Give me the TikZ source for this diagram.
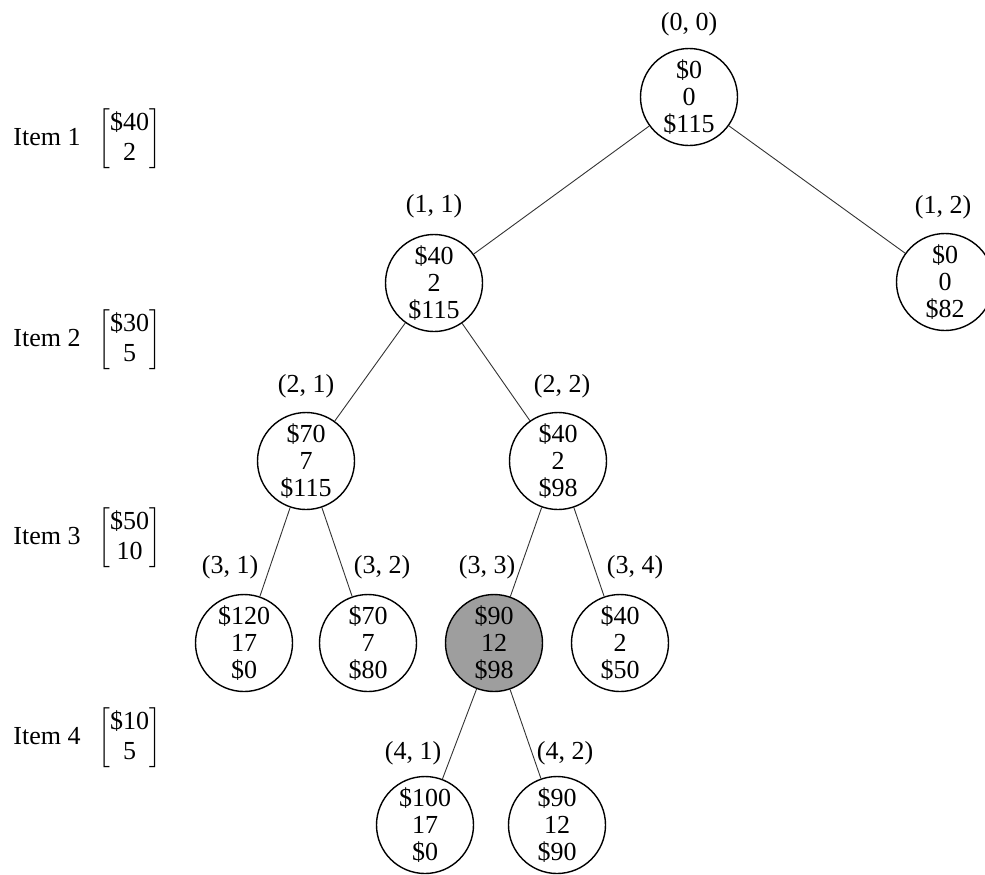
\documentclass[tikz,border=0pt]{standalone}
\usepackage{fontspec}
\setmainfont{Liberation Serif}
\usetikzlibrary{positioning}

\begin{document}
\begin{tikzpicture}[
  x=0.5pt, y=-0.5pt,
  state/.style={draw, circle, line width=0.7pt, minimum size=48.5pt, inner sep=0pt,
                align=center, font=\fontsize{13}{13.5}\selectfont},
  best/.style={state, fill=black!38},
  tag/.style={inner sep=0pt, font=\fontsize{13}{15}\selectfont},
  item/.style={anchor=west, inner sep=0pt, font=\fontsize{13}{15}\selectfont},
  branch/.style={line width=0.45pt, black!80}
]
\useasboundingbox (0,0) rectangle (985,874);
\node[item] (item1) at (13,139) {Item 1\hspace{9pt}$\left[\begin{tabular}{@{}c@{}}\$40\\2\end{tabular}\right]$};
\node[item] (item2) at (13,340) {Item 2\hspace{9pt}$\left[\begin{tabular}{@{}c@{}}\$30\\5\end{tabular}\right]$};
\node[item] (item3) at (13,538) {Item 3\hspace{9pt}$\left[\begin{tabular}{@{}c@{}}\$50\\10\end{tabular}\right]$};
\node[item] (item4) at (13,738) {Item 4\hspace{9pt}$\left[\begin{tabular}{@{}c@{}}\$10\\5\end{tabular}\right]$};
\node[state] (n00) at (689,97) {\$0\\0\\\$115};
\node[state] (n11) at (434,283) {\$40\\2\\\$115};
\node[state] (n12) at (945,282) {\$0\\0\\\$82};
\node[state] (n21) at (306,461) {\$70\\7\\\$115};
\node[state] (n22) at (558,461) {\$40\\2\\\$98};
\node[state] (n31) at (244,643) {\$120\\17\\\$0};
\node[state] (n32) at (368,643) {\$70\\7\\\$80};
\node[best] (n33) at (494,643) {\$90\\12\\\$98};
\node[state] (n34) at (620,643) {\$40\\2\\\$50};
\node[state] (n41) at (425,825) {\$100\\17\\\$0};
\node[state] (n42) at (557,825) {\$90\\12\\\$90};
\node[tag, above=5.5pt of n00] (t00) {(0, 0)};
\node[tag, above=7.5pt of n11] (t11) {(1, 1)};
\node[tag, above=6.5pt of n12, xshift=-1pt] (t12) {(1, 2)};
\node[tag, above=6.5pt of n21] (t21) {(2, 1)};
\node[tag, above=6.5pt of n22, xshift=2pt] (t22) {(2, 2)};
\node[tag, above=7pt of n31, xshift=-7pt] (t31) {(3, 1)};
\node[tag, above=7pt of n32, xshift=7pt] (t32) {(3, 2)};
\node[tag, above=7pt of n33, xshift=-3.5pt] (t33) {(3, 3)};
\node[tag, above=7pt of n34, xshift=7.5pt] (t34) {(3, 4)};
\node[tag, above=5pt of n41, xshift=-6pt] (t41) {(4, 1)};
\node[tag, above=5pt of n42, xshift=4pt] (t42) {(4, 2)};
\draw[branch] (n00) -- (n11);
\draw[branch] (n00) -- (n12);
\draw[branch] (n11) -- (n21);
\draw[branch] (n11) -- (n22);
\draw[branch] (n21) -- (n31);
\draw[branch] (n21) -- (n32);
\draw[branch] (n22) -- (n33);
\draw[branch] (n22) -- (n34);
\draw[branch] (n33) -- (n41);
\draw[branch] (n33) -- (n42);
\end{tikzpicture}
\end{document}
